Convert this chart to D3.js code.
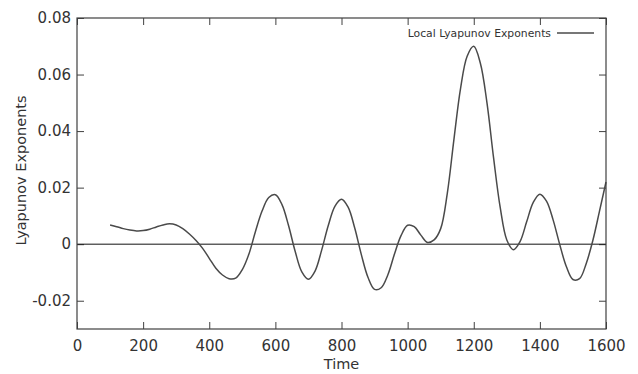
<!DOCTYPE html>
<html>
<head>
<meta charset="utf-8">
<script src="https://cdn.jsdelivr.net/npm/d3@7"></script>
<style>
  body { margin: 0; background: #fff; }
  svg { display: block; font-family: "DejaVu Sans", Verdana, sans-serif; }
</style>
</head>
<body>
<div id="chart"></div>
<script>
// time samples and local exponent values
const times = [100, 120, 140, 160, 180, 200, 220, 240, 260, 280, 300, 320, 340, 360, 380,
  400, 420, 440, 460, 480, 500, 520, 540, 560, 580, 600, 620, 640, 660, 680,
  700, 720, 740, 760, 780, 800, 820, 840, 860, 880, 900, 920, 940, 960, 980,
  1000, 1020, 1040, 1060, 1080, 1100, 1120, 1140, 1160, 1180, 1200, 1220, 1240, 1260, 1280,
  1300, 1320, 1340, 1360, 1380, 1400, 1420, 1440, 1460, 1480, 1500, 1520, 1540, 1560, 1580, 1600];
const lyap = [0.0068, 0.0062, 0.0055, 0.0050, 0.0047, 0.0048, 0.0053, 0.0061, 0.0068, 0.0072,
  0.0068, 0.0055, 0.0036, 0.0013, -0.0015,
  -0.0050, -0.0085, -0.0109, -0.0122, -0.0120, -0.0090, -0.0035, 0.0046, 0.0118, 0.0165,
  0.0175, 0.0140, 0.0065, -0.0026, -0.0098,
  -0.0124, -0.0095, -0.0021, 0.0066, 0.0134, 0.0159, 0.0131, 0.0057, -0.0037, -0.0117,
  -0.0160, -0.0154, -0.0109, -0.0036, 0.0030,
  0.0067, 0.0062, 0.0032, 0.0006, 0.0015, 0.0055, 0.0180, 0.0370, 0.0550, 0.0665,
  0.0700, 0.0640, 0.0500, 0.0305, 0.0130,
  0.0015, -0.0020, 0.0009, 0.0079, 0.0148, 0.0177, 0.0152, 0.0086, -0.0001, -0.0079,
  -0.0125, -0.0122, -0.0069, 0.0012, 0.0115, 0.0220];

const xTicks = [0, 200, 400, 600, 800, 1000, 1200, 1400, 1600];
const xTickLabels = ["0", "200", "400", "600", "800", "1000", "1200", "1400", "1600"];
const yTicks = [-0.02, 0, 0.02, 0.04, 0.06, 0.08];
const yTickLabels = ["-0.02", "0", "0.02", "0.04", "0.06", "0.08"];

const width = 638, height = 374;
const margin = {top: 18, right: 32, bottom: 45, left: 77};
const w = width - margin.left - margin.right;
const h = height - margin.top - margin.bottom;
const axisColor = "#404040";

const svg = d3.select('#chart').append('svg')
  .attr('width', width)
  .attr('height', height);

const g = svg.append('g')
  .attr('transform', `translate(${margin.left},${margin.top})`);

const x = d3.scaleLinear().domain([0, 1600]).range([0, w]);
const y = d3.scaleLinear().domain([-0.03, 0.08]).range([h, 0]);

// axes, ticks pointing inward, mirrored on top and right
const styleAxis = (sel) => {
  sel.select('.domain').remove();
  sel.selectAll('.tick line').attr('stroke', axisColor);
  sel.selectAll('.tick text')
    .attr('fill', '#333')
    .style('font-size', '15px')
    .style('font-family', '"DejaVu Sans", Verdana, sans-serif');
};

g.append('g')
  .attr('transform', `translate(0,${h})`)
  .call(d3.axisBottom(x).tickValues(xTicks).tickSize(-7).tickPadding(11)
    .tickFormat((d, i) => xTickLabels[i]))
  .call(styleAxis);

g.append('g')
  .call(d3.axisTop(x).tickValues(xTicks).tickSize(-7).tickFormat(''))
  .call(styleAxis);

g.append('g')
  .call(d3.axisLeft(y).tickValues(yTicks).tickSize(-7).tickPadding(6)
    .tickFormat((d, i) => yTickLabels[i]))
  .call(styleAxis);

g.append('g')
  .attr('transform', `translate(${w},0)`)
  .call(d3.axisRight(y).tickValues(yTicks).tickSize(-7).tickFormat(''))
  .call(styleAxis);

// zero line
g.append('line')
  .attr('x1', 0).attr('x2', w)
  .attr('y1', y(0)).attr('y2', y(0))
  .attr('stroke', '#111')
  .attr('stroke-width', 1);

// data line
const line = d3.line()
  .x((d, i) => x(times[i]))
  .y(d => y(d))
  .curve(d3.curveCatmullRom);

g.append('path')
  .datum(lyap)
  .attr('fill', 'none')
  .attr('stroke', '#4a4a4a')
  .attr('stroke-width', 1.5)
  .attr('d', line);

// frame
g.append('rect')
  .attr('x', 0).attr('y', 0)
  .attr('width', w).attr('height', h)
  .attr('fill', 'none')
  .attr('stroke', axisColor)
  .attr('stroke-width', 1.2);

// legend
const legend = g.append('g')
  .attr('transform', `translate(${w - 12},${33 - margin.top})`);
legend.append('line')
  .attr('x1', -37).attr('x2', 0)
  .attr('stroke', '#4a4a4a')
  .attr('stroke-width', 1.3);
legend.append('text')
  .attr('x', -43)
  .attr('dy', '0.35em')
  .attr('text-anchor', 'end')
  .attr('fill', '#333')
  .style('font-size', '10.8px')
  .text('Local Lyapunov Exponents');

// axis titles
svg.append('text')
  .attr('x', margin.left + w / 2)
  .attr('y', 369)
  .attr('text-anchor', 'middle')
  .attr('fill', '#333')
  .style('font-size', '14.5px')
  .text('Time');

svg.append('text')
  .attr('transform', `translate(26,${margin.top + h / 2 - 3}) rotate(-90)`)
  .attr('text-anchor', 'middle')
  .attr('fill', '#333')
  .style('font-size', '14.5px')
  .text('Lyapunov Exponents');
</script>
</body>
</html>
